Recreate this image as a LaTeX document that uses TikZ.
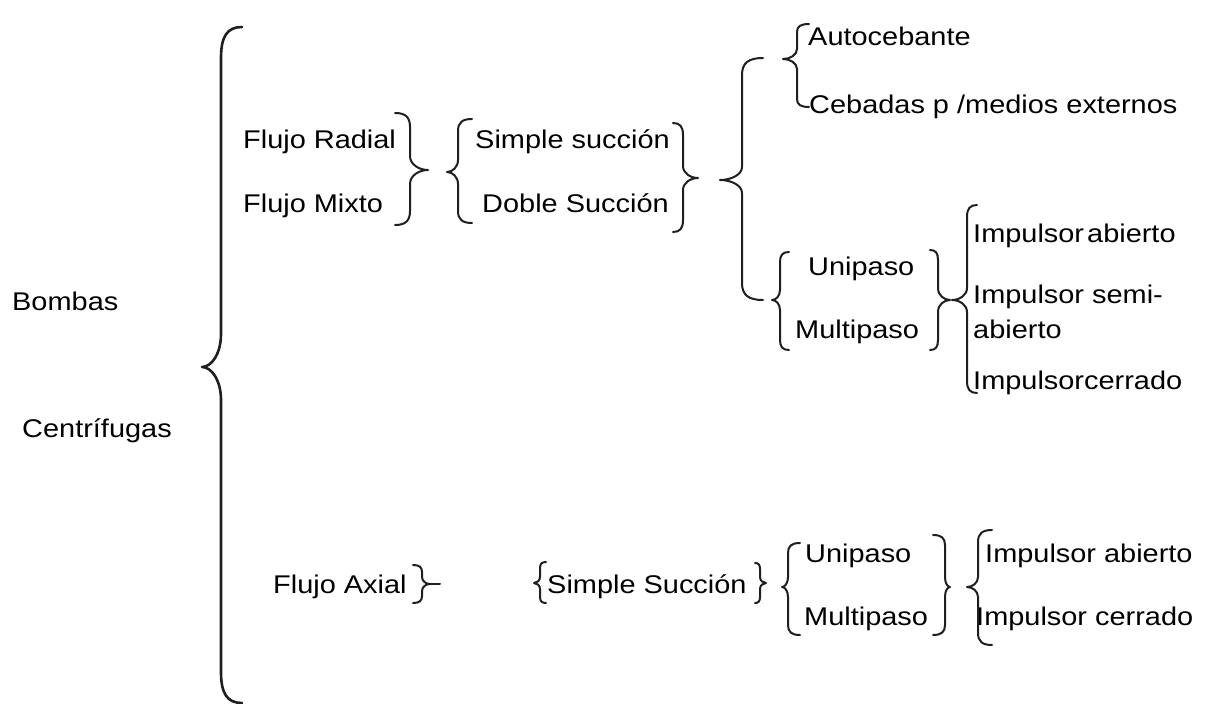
\documentclass[tikz,border=0pt]{standalone}
\usepackage{fontspec}
\setmainfont{Liberation Sans}[FakeStretch=1.13]
\tikzset{
  lbl/.style={anchor=base west, inner sep=0pt, font=\fontsize{25.6}{35}\selectfont},
  brc/.style={line width=2pt, draw=black!88, line cap=round, line join=round},
}
% #1 extra style, #2 line x, #3 top y, #4 bottom y, #5 tip x, #6 tip y, #7 curl dx, #8 curl dy, #9 tip half height
\newcommand{\Brc}[9][]{%
  \draw[brc,#1] ({#2+(#7)},#3) .. controls ({#2+0.3*(#7)},#3) and (#2,{#3+0.3*(#8)}) .. (#2,{#3+(#8)})
    -- (#2,{#6-(#9)}) .. controls (#2,{#6-0.4*(#9)}) and ({#5+0.5*(#2-(#5))},#6) .. (#5,#6)
    .. controls ({#5+0.5*(#2-(#5))},#6) and (#2,{#6+0.4*(#9)}) .. (#2,{#6+(#9)})
    -- (#2,{#4-(#8)}) .. controls (#2,{#4-0.3*(#8)}) and ({#2+0.3*(#7)},#4) .. ({#2+(#7)},#4);}
\begin{document}
\begin{tikzpicture}[x=1pt,y=-1pt]
\useasboundingbox (0,0) rectangle (1208,704);

% texts
\node[lbl] (bombas) at (12,310) {Bombas};
\node[lbl] (centri) at (22,437) {Centrífugas};
\node[lbl] (radial) at (243,148) {Flujo Radial};
\node[lbl] (mixto) at (243,212) {Flujo Mixto};
\node[lbl] (simple) at (475,148) {Simple succión};
\node[lbl] (doble) at (482,212) {Doble Succión};
\node[lbl] (auto) at (808,45) {Autocebante};
\node[lbl] (cebadas) at (809,113) {Cebadas p /medios externos};
\node[lbl] (uni1) at (808,275) {Unipaso};
\node[lbl] (multi1) at (795,338) {Multipaso};
\node[lbl] (iab1) at (973,242) {Impulsor\hspace{0.12em}abierto};
\node[lbl] (isemi) at (973,303) {Impulsor semi-};
\node[lbl] (isemib) at (973,338) {abierto};
\node[lbl] (icer1) at (973,389) {Impulsorcerrado};
\node[lbl] (axial) at (273,593) {Flujo Axial};
\node[lbl] (simple2) at (547,593) {Simple Succión};
\node[lbl] (uni2) at (805,562) {Unipaso};
\node[lbl] (multi2) at (804,625) {Multipaso};
\node[lbl] (iab2) at (985,562) {Impulsor abierto};
\node[lbl] (icer2) at (976,625) {Impulsor cerrado};

% braces
\Brc[line width=2.6pt]{221}{27}{703}{202}{367}{21}{31}{33}
\Brc{410}{113}{225}{428}{170}{-15}{14}{14}
\Brc{458}{119}{223}{447}{172}{14}{12}{12}
\Brc{683}{123}{232}{698}{178}{-10}{12}{12}
\Brc{742}{58}{300}{720}{180}{21}{17}{13}
\Brc{797}{24}{107}{783}{59}{12}{8}{10}
\Brc{780}{252}{350}{772}{300}{9}{10}{10}
\Brc{938}{250}{350}{950}{300}{-8}{10}{12}
\Brc{967}{205}{393}{952}{300}{10}{12}{12}
% lower row
\Brc{422}{565}{603}{430}{584}{-9}{7}{7}
\draw[brc] (430,584) -- (440,584);
\Brc{540}{562}{603}{534}{583}{6}{6}{6}
\Brc{760}{563}{603}{766}{583}{-5}{6}{6}
\Brc{788}{543}{635}{782}{587}{12}{10}{10}
\Brc{945}{535}{635}{950}{587}{-12}{10}{10}
\Brc{978}{530}{645}{967}{587}{14}{12}{10}
\end{tikzpicture}
\end{document}
